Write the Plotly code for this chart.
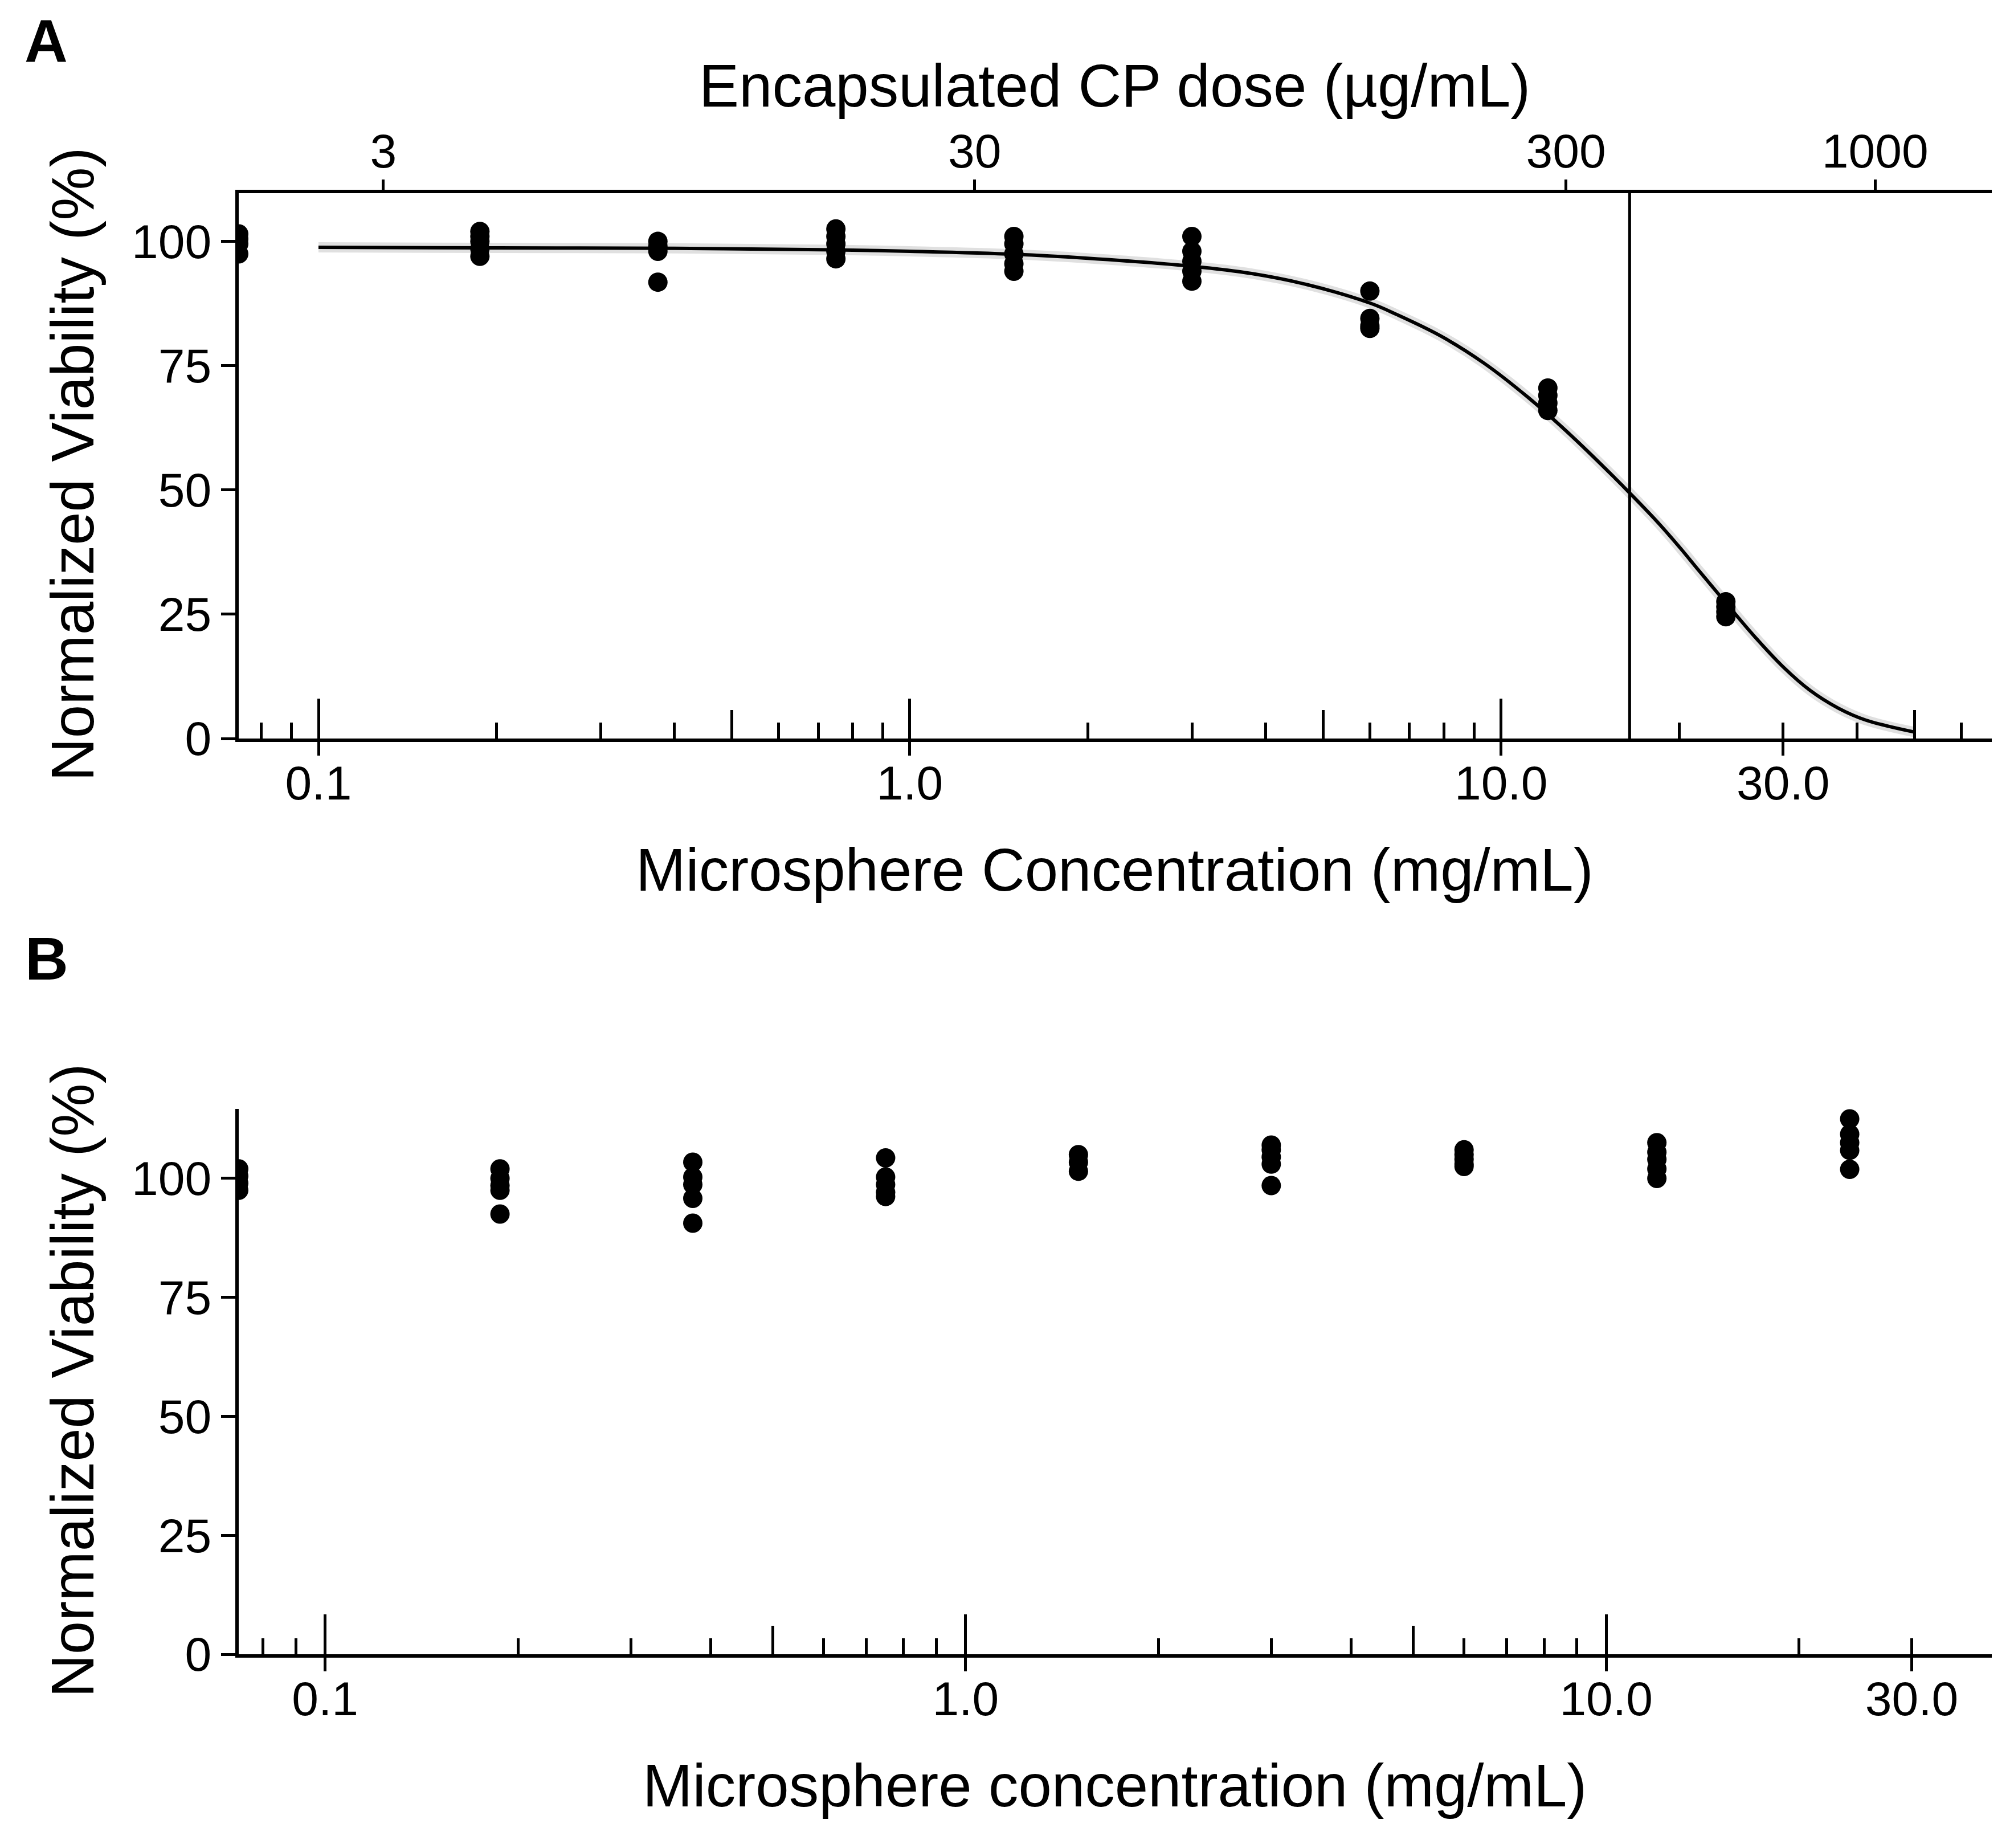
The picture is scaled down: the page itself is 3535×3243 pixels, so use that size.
import math
import plotly.graph_objects as go

# ---------------- data ----------------
CONTROL_X = 0.0733          # control wells plotted at the left edge of the log axis
CP_PER_MG = 23.3            # µg encapsulated CP per mg microspheres (top axis)
IC50 = 16.5                 # mg/mL, vertical reference line

# Panel A: viability vs microsphere concentration
a_conc = [CONTROL_X] * 4 + [0.1875] * 5 + [0.375] * 4 + [0.75] * 5 + [1.5] * 5 + \
         [3.0] * 5 + [6.0] * 4 + [12.0] * 4 + [24.0] * 4
a_viab = [101.5, 100.5, 99.5, 97.5,
          102.0, 101.0, 100.0, 98.5, 97.0,
          100.0, 99.0, 98.0, 91.8,
          102.5, 101.0, 99.5, 98.0, 96.5,
          101.0, 99.5, 97.5, 95.5, 94.0,
          101.0, 98.0, 96.0, 94.0, 92.0,
          90.0, 84.5, 83.0, 82.5,
          70.5, 69.0, 67.5, 66.0,
          27.5, 26.5, 25.5, 24.5]

# Panel A: fitted dose-response curve
fit_conc = [0.1, 0.2, 0.4, 0.75, 1.0, 1.5, 2.0, 3.0, 3.8, 4.7, 6.0, 6.66, 7.9, 9.36,
            11.09, 13.15, 15.58, 16.5, 18.47, 20.1, 21.6, 24.0, 26.8, 30.0, 33.3, 37.2, 41.4, 50.0]
fit_viab = [98.8, 98.7, 98.6, 98.3, 98.0, 97.4, 96.6, 95.0, 93.5, 91.3, 87.6, 85.3, 81.0, 75.5,
            68.7, 60.9, 52.4, 49.4, 43.3, 38.3, 33.8, 27.3, 20.6, 14.4, 9.7, 6.1, 3.7, 1.3]

# Panel B: viability of blank microspheres
b_conc = [CONTROL_X] * 4 + [0.1875] * 5 + [0.375] * 5 + [0.75] * 5 + [1.5] * 3 + \
         [3.0] * 5 + [6.0] * 5 + [12.0] * 5 + [24.0] * 5
b_viab = [102.0, 100.5, 99.0, 97.5,
          102.0, 100.0, 98.5, 97.5, 92.5,
          103.4, 100.3, 98.7, 95.8, 90.6,
          104.3, 100.3, 98.7, 97.1, 96.2,
          105.0, 103.4, 101.5,
          107.0, 106.0, 104.5, 103.0, 98.5,
          106.0, 105.0, 104.0, 103.0, 102.5,
          107.5, 105.5, 104.0, 102.0, 100.0,
          112.5, 109.3, 107.5, 105.9, 101.9]

# axis setup values
A_XMAX, B_XMAX = 67.6, 40.0
A_YMAX, B_YMAX = 109.7, 114.6
y_ticks = [0, 25, 50, 75, 100]
x_label_vals = [0.1, 1.0, 10.0, 30.0]
x_label_text = ["0.1", "1.0", "10.0", "30.0"]
top_tick_vals = [3, 30, 300, 1000]
top_tick_text = ["3", "30", "300", "1000"]
decade_vals = [0.1, 1.0, 10.0]
half_vals_a = [0.5, 5.0, 50.0]
half_vals_b = [0.5, 5.0]
minor_vals_a = [0.08, 0.09, 0.2, 0.3, 0.4, 0.6, 0.7, 0.8, 0.9,
                2, 3, 4, 6, 7, 8, 9, 20, 30, 40, 60]
minor_vals_b = [0.08, 0.09, 0.2, 0.3, 0.4, 0.6, 0.7, 0.8, 0.9,
                2, 3, 4, 6, 7, 8, 9, 20, 30, 40]

# ---------------- styling ----------------
W, H = 3535, 3243
FONT = "Liberation Sans"
TICK_FS = 84
TITLE_FS = 105
LW = 6
X_DOM = [419 / W, 3496 / W]
A_DOM = [1 - 1296 / H, 1 - 339 / H]
B_DOM = [1 - 2903 / H, 1 - 1946 / H]

fig = go.Figure()

# Panel A
fig.add_trace(go.Scatter(x=fit_conc, y=fit_viab, mode="lines", line=dict(color="rgba(0,0,0,0.12)", width=18, shape="spline"),
                         xaxis="x", yaxis="y", showlegend=False, hoverinfo="skip"))
fig.add_trace(go.Scatter(x=fit_conc, y=fit_viab, mode="lines", line=dict(color="black", width=6, shape="spline"),
                         xaxis="x", yaxis="y", showlegend=False))
fig.add_trace(go.Scatter(x=[IC50, IC50], y=[0, A_YMAX], mode="lines", line=dict(color="black", width=5),
                         xaxis="x", yaxis="y", showlegend=False, cliponaxis=False))
fig.add_trace(go.Scatter(x=a_conc, y=a_viab, mode="markers", marker=dict(color="black", size=34, line=dict(width=0)),
                         xaxis="x", yaxis="y", showlegend=False))
# Panel B
fig.add_trace(go.Scatter(x=b_conc, y=b_viab, mode="markers", marker=dict(color="black", size=34, line=dict(width=0)),
                         xaxis="x5", yaxis="y2", showlegend=False))
# empty traces to activate overlay tick axes
for xa, ya in [("x2", "y"), ("x3", "y"), ("x4", "y"), ("x8", "y"), ("x10", "y"),
               ("x6", "y2"), ("x7", "y2"), ("x9", "y2")]:
    fig.add_trace(go.Scatter(x=[None], y=[None], xaxis=xa, yaxis=ya, showlegend=False, hoverinfo="skip"))

tickfont = dict(family=FONT, size=TICK_FS, color="black")
a_range = [math.log10(CONTROL_X), math.log10(A_XMAX)]
b_range = [math.log10(CONTROL_X), math.log10(B_XMAX)]
top_range = [math.log10(CONTROL_X * CP_PER_MG), math.log10(A_XMAX * CP_PER_MG)]

def label_axis(rng, anchor, vals, text, side="bottom", over=None, standoff=0):
    d = dict(type="log", range=rng, domain=X_DOM, anchor=anchor, side=side, tickmode="array",
             tickvals=vals, ticktext=text, ticks="", showline=True, linewidth=LW,
             linecolor="black", showgrid=False, zeroline=False, tickfont=tickfont,
             ticklabelstandoff=standoff)
    if over:
        d["overlaying"] = over
    return d

def tick_axis(rng, anchor, over, vals, length, where, side="bottom", minor_vals=None):
    d = dict(type="log", range=rng, domain=X_DOM, anchor=anchor, overlaying=over, side=side,
             tickmode="array", tickvals=vals, ticks=where, ticklen=length, tickwidth=5,
             tickcolor="black", showticklabels=False, showline=False, showgrid=False, zeroline=False)
    if minor_vals is not None:
        d["minor"] = dict(tickmode="array", tickvals=minor_vals, ticks=where, ticklen=28,
                          tickwidth=5, tickcolor="black", showgrid=False)
    return d

def y_axis(dom, top, anchor):
    return dict(domain=dom, range=[0, top], anchor=anchor, tickmode="array",
                tickvals=y_ticks, ticks="outside", ticklen=25, tickwidth=5, tickcolor="black",
                showline=True, linewidth=LW, linecolor="black", showgrid=False, zeroline=False,
                tickfont=tickfont)

fig.update_layout(
    width=W, height=H, margin=dict(l=0, r=0, t=0, b=0, autoexpand=False),
    paper_bgcolor="white", plot_bgcolor="white",
    font=dict(family=FONT, color="black"),
    # panel A bottom axis (labels) + tick layers
    xaxis=label_axis(a_range, "y", x_label_vals, x_label_text),
    xaxis8=tick_axis(a_range, "y", "x", x_label_vals, 29, "outside"),
    xaxis3=tick_axis(a_range, "y", "x", decade_vals, 70, "inside", minor_vals=minor_vals_a),
    xaxis4=tick_axis(a_range, "y", "x", half_vals_a, 50, "inside"),
    # panel A top axis (CP dose)
    xaxis2=label_axis(top_range, "y", top_tick_vals, top_tick_text, side="top", over="x", standoff=5),
    xaxis10=tick_axis(top_range, "y", "x", top_tick_vals, 23, "outside", side="top"),
    # panel B bottom axis
    xaxis5=label_axis(b_range, "y2", x_label_vals, x_label_text),
    xaxis9=tick_axis(b_range, "y2", "x5", x_label_vals, 29, "outside"),
    xaxis6=tick_axis(b_range, "y2", "x5", decade_vals, 70, "inside", minor_vals=minor_vals_b),
    xaxis7=tick_axis(b_range, "y2", "x5", half_vals_b, 50, "inside"),
    yaxis=y_axis(A_DOM, A_YMAX, "x"),
    yaxis2=y_axis(B_DOM, B_YMAX, "x5"),
)

ann = [
    dict(text="<b>A</b>", x=81 / W, y=1 - 72 / H, size=105),
    dict(text="<b>B</b>", x=82 / W, y=1 - 1682 / H, size=105),
    dict(text="Encapsulated CP dose (µg/mL)", x=1956 / W, y=1 - 150 / H, size=TITLE_FS),
    dict(text="Microsphere Concentration (mg/mL)", x=1956 / W, y=1 - 1526 / H, size=TITLE_FS),
    dict(text="Microsphere concentration (mg/mL)", x=1956 / W, y=1 - 3133 / H, size=TITLE_FS),
    dict(text="Normalized Viability (%)", x=127 / W, y=1 - 815 / H, size=TITLE_FS, angle=-90),
    dict(text="Normalized Viability (%)", x=127 / W, y=1 - 2423 / H, size=TITLE_FS, angle=-90),
]
for a in ann:
    fig.add_annotation(text=a["text"], x=a["x"], y=a["y"], xref="paper", yref="paper",
                       xanchor="center", yanchor="middle", showarrow=False,
                       textangle=a.get("angle", 0),
                       font=dict(family=FONT, size=a["size"], color="black"))

fig.write_html("out.html", config={"displayModeBar": False},
               post_script="document.body.style.margin='0px';")
